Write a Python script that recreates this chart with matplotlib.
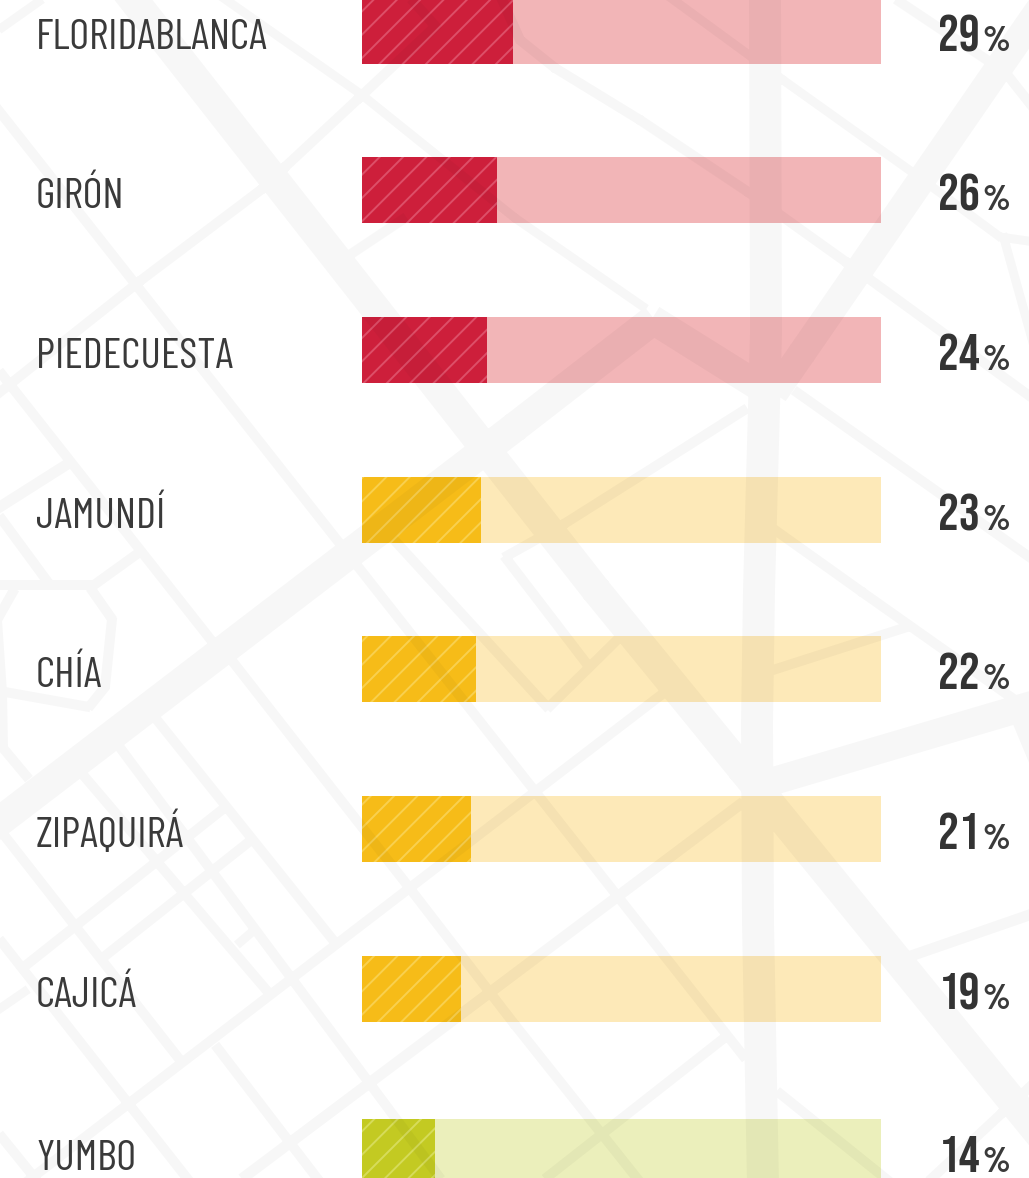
import numpy as np
import matplotlib
matplotlib.use('Agg')
import matplotlib.pyplot as plt
from matplotlib.path import Path
from matplotlib.patches import PathPatch

W, H = 1029, 1178
DPI = 140

# data
cities = ['FLORIDABLANCA', 'GIRÓN', 'PIEDECUESTA', 'JAMUNDÍ', 'CHÍA', 'ZIPAQUIRÁ', 'CAJICÁ', 'YUMBO']
values = [29, 26, 24, 23, 22, 21, 19, 14]
row_y = [31, 190, 350, 510, 669, 829, 989, 1152]
bar_h = 66
dark = ['#cd1f3b', '#cd1f3b', '#cd1f3b', '#f6bc18', '#f6bc18', '#f6bc18', '#f6bc18', '#c3ca22']
light = ['#f2b5b7', '#f2b5b7', '#f2b5b7', '#fde9b8', '#fde9b8', '#fde9b8', '#fde9b8', '#ebefbb']
stripe = ['#dd4f68', '#dd4f68', '#dd4f68', '#f9d04f', '#f9d04f', '#f9d04f', '#f9d04f', '#d6dc5a']

# street map behind the chart, pixel coordinates (width, points)
streets = [
    (32, [(765, -5), (766, 333), (759, 590), (757, 723), (758, 923), (763, 1185)]),
    (30, [(110, -30), (596, 590), (742, 769), (1075, 1178)]),
    (30, [(-30, 844), (515, 427), (653, 320)]),
    (29, [(653, 320), (760, 387)]),
    (28, [(775, 392), (802, 353), (1000, 66), (1050, -6)]),
    (28, [(760, 785), (1035, 704)]),
    (24, [(1018, 705), (1045, 770)]),
    (9, [(660, -10), (783, 80), (912, 172), (1000, 237), (1035, 242)]),
    (9, [(1003, 235), (1035, 350)]),
    (9, [(222, -3), (362, 95), (515, 218), (645, 308)]),
    (10, [(500, -5), (520, 40), (555, 68), (640, 120), (748, 192), (846, 262), (1035, 400)]),
    (10, [(795, 391), (1035, 561)]),
    (10, [(775, 530), (862, 592), (1015, 700)]),
    (10, [(773, 670), (907, 627)]),
    (11, [(905, 958), (1035, 913)]),
    (10, [(778, 1092), (890, 1182)]),
    (10, [(930, 1180), (1002, 1113), (1035, 1082)]),
    (10, [(746, 409), (564, 524), (505, 557)]),
    (10, [(505, 557), (590, 668)]),
    (10, [(548, 708), (617, 640)]),
    (10, [(385, 530), (548, 708)]),
    (10, [(-8, 102), (745, 1058)]),
    (10, [(0, 372), (211, 640)]),
    (10, [(157, 720), (337, 945)]),
    (10, [(121, 749), (440, 1178)]),
    (10, [(84, 776), (268, 992)]),
    (10, [(233, 662), (408, 886), (515, 1025), (640, 1182)]),
    (9, [(238, 944), (252, 932)]),
    (10, [(0, 830), (180, 1060)]),
    (10, [(216, 1046), (320, 1182)]),
    (10, [(0, 940), (190, 1182)]),
    (10, [(0, 1135), (38, 1182)]),
    (10, [(0, 517), (50, 585)]),
    (10, [(0, 585), (94, 585), (137, 554)]),
    (10, [(91, 589), (112, 619), (105, 687), (89, 707), (5, 692)]),
    (10, [(14, 590), (-3, 620), (2, 692), (3, 748), (28, 778)]),
    (9, [(0, 29), (41, 0)]),
    (10, [(437, 25), (358, 99), (285, 167), (262, 189), (140, 281), (-5, 396)]),
    (10, [(345, 258), (405, 218)]),
    (10, [(412, 0), (437, 28)]),
    (11, [(66, 465), (-5, 510)]),
    (10, [(20, 1187), (665, 692)]),
    (11, [(243, 1178), (742, 803)]),
    (10, [(546, 1178), (728, 1035)]),
    (9, [(-5, 1012), (27, 990)]),
    (10, [(20, 970), (228, 805)]),
    (10, [(105, 956), (250, 841)]),
    (10, [(897, 0), (990, 62)]),
    (10, [(1005, 72), (1035, 110)]),
]


def street_path(streets):
    # one compound path of quads, so crossings do not get darker
    verts = []
    codes = []
    for width, pts in streets:
        for a, b in zip(pts[:-1], pts[1:]):
            a, b = np.array(a, float), np.array(b, float)
            d = (b - a) / np.hypot(*(b - a))
            n = np.array([-d[1], d[0]]) * width / 2
            a2, b2 = a - d * 1.5, b + d * 1.5
            verts += [a2 + n, b2 + n, b2 - n, a2 - n, a2 + n]
            codes += [Path.MOVETO, Path.LINETO, Path.LINETO, Path.LINETO, Path.CLOSEPOLY]
    return Path(verts, codes)


plt.rcParams['hatch.linewidth'] = 1.0
label_font = ['Barlow Condensed', 'Open Sans', 'DejaVu Sans']
value_font = ['Bebas Neue', 'Oswald', 'DejaVu Sans']

fig = plt.figure(figsize=((W + 0.01) / DPI, (H + 0.01) / DPI), dpi=DPI, facecolor='white')

# bars: 0-100% spans the track
ax = fig.add_axes([362 / W, 0, 519 / W, 1], zorder=1)
ax.set_xlim(0, 100)
ax.set_ylim(H, 0)
ax.axis('off')
ax.barh(row_y, [100] * len(values), height=bar_h, color=light, linewidth=0)
ax.barh(row_y, values, height=bar_h, color=dark, edgecolor=stripe, hatch='//', linewidth=0)

# overlay in pixels for the map and the text
over = fig.add_axes([0, 0, 1, 1], zorder=2)
over.set_xlim(0, W)
over.set_ylim(H, 0)
over.axis('off')
over.patch.set_alpha(0)
over.add_patch(PathPatch(street_path(streets), facecolor='black', alpha=0.033, linewidth=0, zorder=1))

px = 72 / DPI
for city, val, y in zip(cities, values, row_y):
    over.text(36, y + 18, city, fontsize=43 * px, color='#3a3a3a', family=label_font, weight='regular',
              va='baseline', ha='left', zorder=3)
    over.text(980, y + 20, str(val), fontsize=52 * px, color='#333333', family=value_font,
              va='baseline', ha='right', zorder=3)
    over.text(982, y + 20, '%', fontsize=36 * px, color='#3a3a3a', family=label_font, weight='bold',
              va='baseline', ha='left', zorder=3)

fig.savefig('out.png', dpi=DPI)
